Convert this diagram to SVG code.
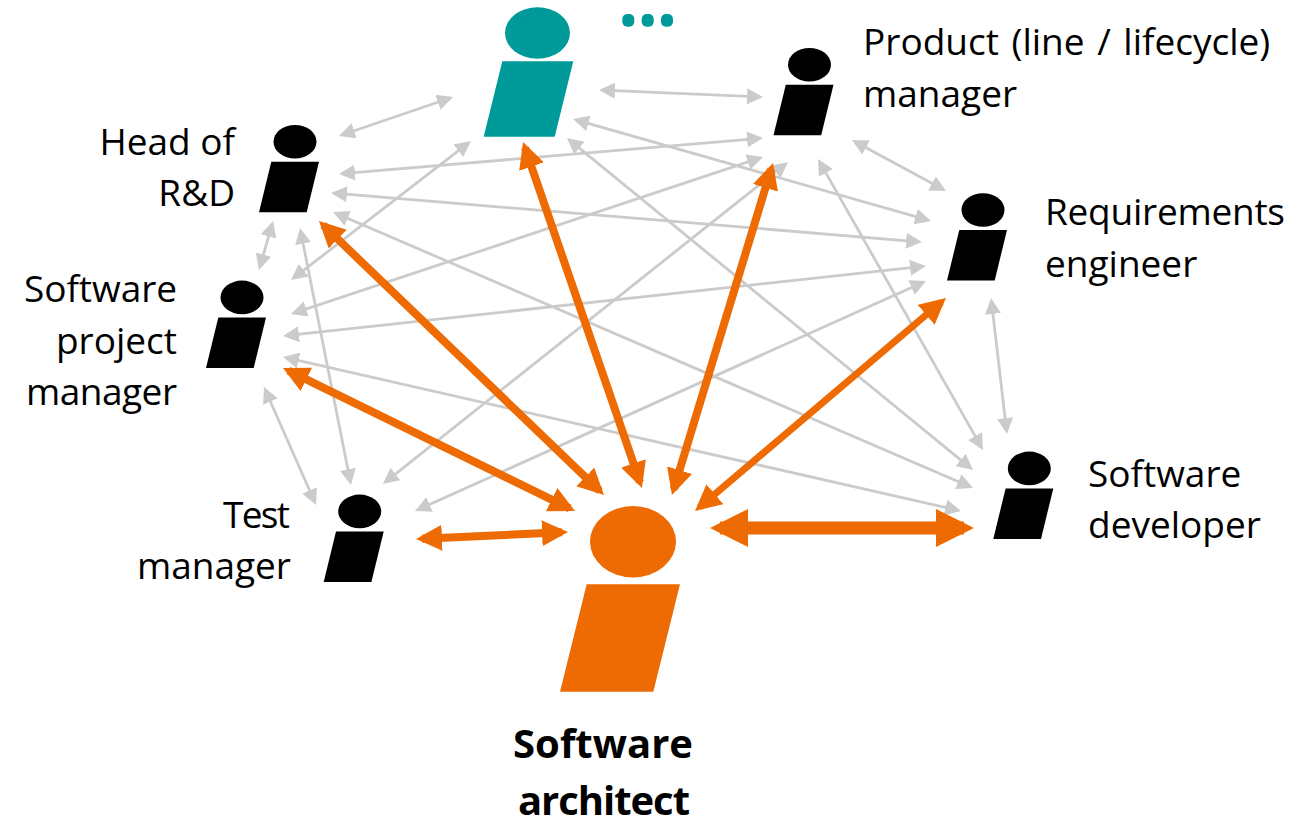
<svg xmlns="http://www.w3.org/2000/svg" width="1302" height="819" viewBox="0 0 1302 819">
<style>
text{font-family:"Open Sans","Noto Sans",sans-serif;font-size:37px;fill:#000}
.b{font-weight:700;font-size:40px}
.e{text-anchor:end}
.g{stroke:#cbcbcb;stroke-width:2.8;fill:none;marker-start:url(#mg);marker-end:url(#mg)}
.o{stroke:#ee6a02;stroke-width:8;fill:none;marker-start:url(#mo);marker-end:url(#mo)}
.t{stroke:#ee6a02;stroke-width:13;fill:none;marker-start:url(#mt);marker-end:url(#mt)}
</style>
<defs>
<marker id="mg" markerUnits="userSpaceOnUse" markerWidth="16" markerHeight="16" refX="13" refY="8" orient="auto-start-reverse"><path d="M0,0L16,8L0,16z" fill="#cbcbcb"/></marker>
<marker id="mo" markerUnits="userSpaceOnUse" markerWidth="26" markerHeight="26" refX="20" refY="13" orient="auto-start-reverse"><path d="M0,0L26,13L0,26z" fill="#ee6a02"/></marker>
<marker id="mt" markerUnits="userSpaceOnUse" markerWidth="38" markerHeight="38" refX="28" refY="19" orient="auto-start-reverse"><path d="M0,0L38,19L0,38z" fill="#ee6a02"/></marker>
<g id="person"><ellipse cx="0" cy="0" rx="21.5" ry="16.8"/><path d="M-23.7,20L24,20L11.7,70.6L-36,70.6z"/></g>
</defs>
<g id="connectors">
<path class="g" d="M341.8,135L450.2,98"/>
<path class="g" d="M602,90.1L760,96.9"/>
<path class="g" d="M342,173.7L760,138.3"/>
<path class="g" d="M334,193.2L919,241.8"/>
<path class="g" d="M335.8,213.2L970.2,486.8"/>
<path class="g" d="M569.3,139.9L970.7,468.1"/>
<path class="g" d="M819.5,161.6L981.5,447.4"/>
<path class="g" d="M575.9,119.8L928.1,220.2"/>
<path class="g" d="M300.6,230.9L350.4,482.1"/>
<path class="g" d="M272.2,223.9L259.8,267.1"/>
<path class="g" d="M468.6,142.8L293.4,278.2"/>
<path class="g" d="M293.8,313.1L760.2,157.9"/>
<path class="g" d="M286,335.7L923,266.3"/>
<path class="g" d="M285.9,357.7L958.1,510.3"/>
<path class="g" d="M265.2,389.7L314.8,502.3"/>
<path class="g" d="M385.3,482.1L785.7,163.9"/>
<path class="g" d="M417.7,509.8L923.3,282.2"/>
<path class="g" d="M854.6,141.4L943.4,189.6"/>
<path class="g" d="M991.4,301L1006.6,431"/>
<path class="o" d="M323.3,225.2L599.7,490.8"/>
<path class="o" d="M525,147.7L640,482.3"/>
<path class="o" d="M771.3,168.7L673.7,489.3"/>
<path class="o" style="stroke-width:7" d="M941.4,301.9L699.6,507.1"/>
<path class="o" d="M288.4,370.6L569.6,508.4"/>
<path class="o" d="M422,538.7L562,532.3"/>
<path class="t" d="M720,528L964,528"/>
</g>
<g id="head-of-rd"><use href="#person" x="295" y="141.7"/><text class="e" x="235" y="155">Head of</text><text class="e" x="235" y="206">R&amp;D</text></g>
<g id="product-manager"><use href="#person" x="809.5" y="64.7"/><text x="863" y="55" word-spacing="3">Product (line / lifecycle)</text><text x="863" y="107">manager</text></g>
<g id="requirements-engineer"><use href="#person" x="983" y="210"/><text x="1045" y="225" textLength="240">Requirements</text><text x="1045" y="277">engineer</text></g>
<g id="software-developer"><use href="#person" x="1029.3" y="468.4"/><text x="1088" y="487">Software</text><text x="1088" y="538">developer</text></g>
<g id="test-manager"><use href="#person" x="359.7" y="511.4"/><text class="e" x="290" y="528" textLength="67">Test</text><text class="e" x="291" y="579">manager</text></g>
<g id="software-project-manager"><use href="#person" x="242" y="297.4"/><text class="e" x="177" y="302" textLength="153">Software</text><text class="e" x="177" y="354">project</text><text class="e" x="177" y="405" textLength="151">manager</text></g>
<g id="unknown-stakeholder" fill="#009a9a"><ellipse cx="537.5" cy="33" rx="32.5" ry="25.7"/><path d="M502.3,61.3L573.3,61.3L554.7,136.7L483.7,136.7z"/><rect x="622.3" y="14" width="12" height="12.7" rx="5"/><rect x="641.7" y="14" width="12" height="12.7" rx="5"/><rect x="661" y="14" width="12" height="12.7" rx="5"/></g>
<g id="software-architect" fill="#ee6a02"><ellipse cx="633" cy="541.7" rx="43" ry="35.7"/><path d="M586.7,584.3L680,584.3L653.3,691.7L560,691.7z"/><text class="b" x="603" y="758" text-anchor="middle">Software</text><text class="b" x="604" y="815" text-anchor="middle" textLength="172">architect</text></g>
</svg>
